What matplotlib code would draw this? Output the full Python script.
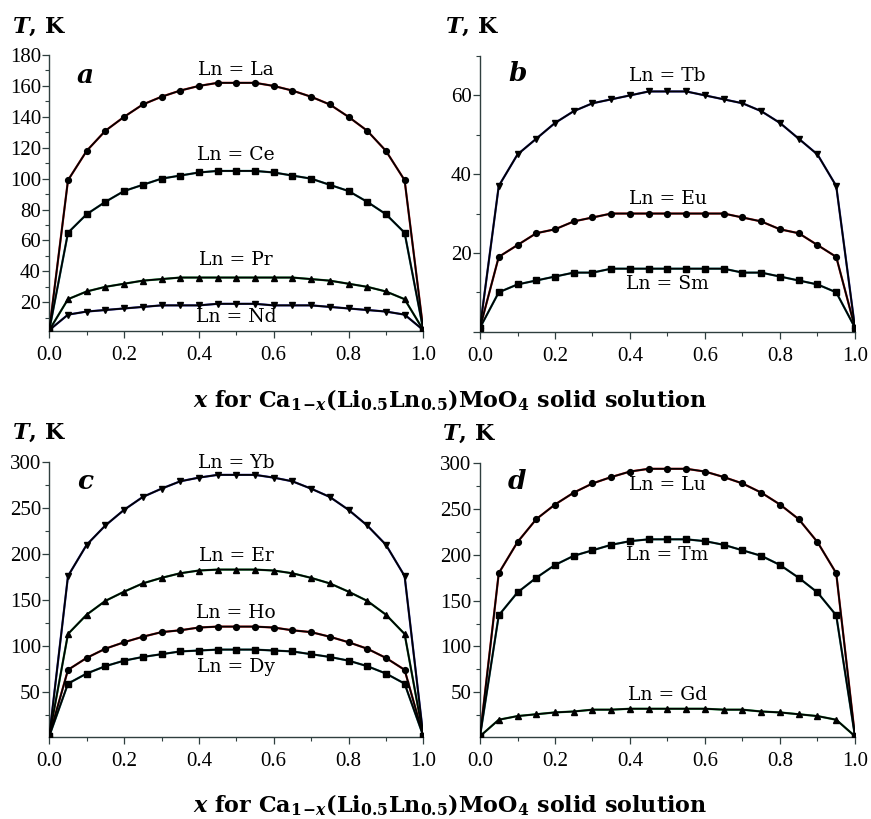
import matplotlib
matplotlib.use('Agg')
import matplotlib.pyplot as plt
from matplotlib.ticker import MultipleLocator

plt.rcParams['mathtext.fontset'] = 'custom'
plt.rcParams['mathtext.rm'] = 'DejaVu Serif:bold'
plt.rcParams['mathtext.it'] = 'DejaVu Serif:italic:bold'
plt.rcParams['mathtext.bf'] = 'DejaVu Serif:bold'

# Composition x (21 points)
x_frac = [0.0, 0.05, 0.10, 0.15, 0.20, 0.25, 0.30, 0.35, 0.40, 0.45, 0.50,
          0.55, 0.60, 0.65, 0.70, 0.75, 0.80, 0.85, 0.90, 0.95, 1.0]

# Panel a
t_la = [2, 99, 118, 131, 140, 148, 153, 157, 160, 162, 162, 162, 160, 157, 153, 148, 140, 131, 118, 99, 2]
t_ce = [2, 65, 77, 85, 92, 96, 100, 102, 104, 105, 105, 105, 104, 102, 100, 96, 92, 85, 77, 65, 2]
t_pr = [2, 22, 27, 30, 32, 34, 35, 36, 36, 36, 36, 36, 36, 36, 35, 34, 32, 30, 27, 22, 2]
t_nd = [2, 12, 14, 15, 16, 17, 18, 18, 18, 19, 19, 19, 18, 18, 18, 17, 16, 15, 14, 12, 2]

# Panel b
t_tb = [1, 37, 45, 49, 53, 56, 58, 59, 60, 61, 61, 61, 60, 59, 58, 56, 53, 49, 45, 37, 1]
t_eu = [1, 19, 22, 25, 26, 28, 29, 30, 30, 30, 30, 30, 30, 30, 29, 28, 26, 25, 22, 19, 1]
t_sm = [1, 10, 12, 13, 14, 15, 15, 16, 16, 16, 16, 16, 16, 16, 15, 15, 14, 13, 12, 10, 1]

# Panel c
t_yb = [2, 176, 210, 231, 248, 262, 271, 279, 283, 286, 286, 286, 283, 279, 271, 262, 248, 231, 210, 176, 2]
t_er = [2, 113, 134, 149, 159, 168, 174, 179, 182, 183, 183, 183, 182, 179, 174, 168, 159, 149, 134, 113, 2]
t_ho = [2, 74, 87, 97, 104, 110, 115, 117, 120, 121, 121, 121, 120, 117, 115, 110, 104, 97, 87, 74, 2]
t_dy = [2, 59, 70, 78, 84, 88, 91, 94, 95, 96, 96, 96, 95, 94, 91, 88, 84, 78, 70, 59, 2]

# Panel d
t_lu = [2, 180, 214, 239, 255, 268, 278, 285, 291, 294, 294, 294, 291, 285, 278, 268, 255, 239, 214, 180, 2]
t_tm = [2, 134, 159, 175, 189, 199, 205, 211, 215, 217, 217, 217, 215, 211, 205, 199, 189, 175, 159, 134, 2]
t_gd = [2, 20, 24, 26, 28, 29, 31, 31, 32, 32, 32, 32, 32, 31, 31, 29, 28, 26, 24, 20, 2]

# marker style -> (marker, size, underlay colour)
styles = {
    'o': ('o', 4.2, '#d03030'),
    's': ('s', 4.0, '#308888'),
    '^': ('^', 4.8, '#30a050'),
    'v': ('v', 4.8, '#4040b0'),
}

fig = plt.figure(figsize=(8.71, 8.19), dpi=100)

ax_a = fig.add_axes([0.0566, 0.5962, 0.4294, 0.3366])
ax_b = fig.add_axes([0.5511, 0.5950, 0.4305, 0.3366])
ax_c = fig.add_axes([0.0566, 0.1005, 0.4294, 0.3354])
ax_d = fig.add_axes([0.5511, 0.1005, 0.4305, 0.3338])


def draw_curve(ax, y, kind):
    m, ms, col = styles[kind]
    ax.plot(x_frac, y, color=col, lw=1.6, zorder=2)
    ax.plot(x_frac, y, color='black', lw=1.3, marker=m, ms=ms,
            mfc='black', mec='black', zorder=3)


def style_axes(ax, ylim, major, minor):
    ax.set_xlim(0, 1)
    ax.set_ylim(*ylim)
    for s in ['top', 'right']:
        ax.spines[s].set_visible(False)
    for s in ['left', 'bottom']:
        ax.spines[s].set_color('#2f3f3f')
        ax.spines[s].set_linewidth(1.0)
    ax.xaxis.set_major_locator(MultipleLocator(0.2))
    ax.xaxis.set_minor_locator(MultipleLocator(0.1))
    ax.yaxis.set_major_locator(MultipleLocator(major))
    ax.yaxis.set_minor_locator(MultipleLocator(minor))
    ax.tick_params(axis='both', which='major', direction='out', length=5,
                   width=0.9, color='#2f3f3f', labelsize=15,
                   labelfontfamily='Liberation Serif')
    ax.tick_params(axis='both', which='minor', direction='out', length=3,
                   width=0.8, color='#2f3f3f')
    ax.tick_params(axis='y', which='major', pad=1)
    ax.tick_params(axis='x', which='major', pad=6)
    ax.xaxis.set_major_formatter(plt.FuncFormatter(lambda v, p: f'{v:.1f}'))
    ax.yaxis.set_major_formatter(
        plt.FuncFormatter(lambda v, p: '' if v < 1 else f'{v:.0f}'))


def label(ax, y, text):
    ax.text(0.5, y, text, ha='center', va='center', fontsize=13.5,
            family='DejaVu Serif', zorder=5)


def letter(ax, x, y, text):
    ax.text(x, y, text, ha='center', va='center', fontsize=19,
            family='DejaVu Serif', style='italic', fontweight='bold')


# a
draw_curve(ax_a, t_la, 'o')
draw_curve(ax_a, t_ce, 's')
draw_curve(ax_a, t_pr, '^')
draw_curve(ax_a, t_nd, 'v')
style_axes(ax_a, (1.6, 180), 20, 10)
label(ax_a, 170.3, 'Ln = La')
label(ax_a, 115.3, 'Ln = Ce')
label(ax_a, 47.4, 'Ln = Pr')
label(ax_a, 10.7, 'Ln = Nd')
letter(ax_a, 0.095, 167, 'a')

# b
draw_curve(ax_b, t_tb, 'v')
draw_curve(ax_b, t_eu, 'o')
draw_curve(ax_b, t_sm, 's')
style_axes(ax_b, (0, 70), 20, 10)
label(ax_b, 64.8, 'Ln = Tb')
label(ax_b, 33.8, 'Ln = Eu')
label(ax_b, 12.0, 'Ln = Sm')
letter(ax_b, 0.099, 65.6, 'b')

# c
draw_curve(ax_c, t_yb, 'v')
draw_curve(ax_c, t_er, '^')
draw_curve(ax_c, t_ho, 'o')
draw_curve(ax_c, t_dy, 's')
style_axes(ax_c, (1.3, 300), 50, 25)
label(ax_c, 299, 'Ln = Yb')
label(ax_c, 198, 'Ln = Er')
label(ax_c, 135.8, 'Ln = Ho')
label(ax_c, 76.6, 'Ln = Dy')
letter(ax_c, 0.095, 279, 'c')

# d
draw_curve(ax_d, t_lu, 'o')
draw_curve(ax_d, t_tm, 's')
draw_curve(ax_d, t_gd, '^')
style_axes(ax_d, (1.5, 300), 50, 25)
label(ax_d, 276.3, 'Ln = Lu')
label(ax_d, 200, 'Ln = Tm')
label(ax_d, 47.3, 'Ln = Gd')
letter(ax_d, 0.099, 279.6, 'd')

# axis titles
for (fx, fy) in [(12 / 871, 0.9676), (445 / 871, 0.9676), (12 / 871, 0.4719), (442 / 871, 0.4700)]:
    fig.text(fx, fy, r'$\mathit{T}$, K', ha='left', va='center', fontsize=16,
             family='DejaVu Serif', fontweight='bold')

caption = (r'$\mathit{x}$ for Ca$_{1\!-\!\mathit{x}}$(Li$_{\mathrm{0.5}}$'
           r'Ln$_{\mathrm{0.5}}$)MoO$_{\mathrm{4}}$ solid solution')
for fy in [1 - 407 / 819, 1 - 812 / 819]:
    fig.text(450 / 871, fy, caption, ha='center', va='baseline', fontsize=16,
             family='DejaVu Serif', fontweight='bold')

fig.savefig('out.png', dpi=100)
